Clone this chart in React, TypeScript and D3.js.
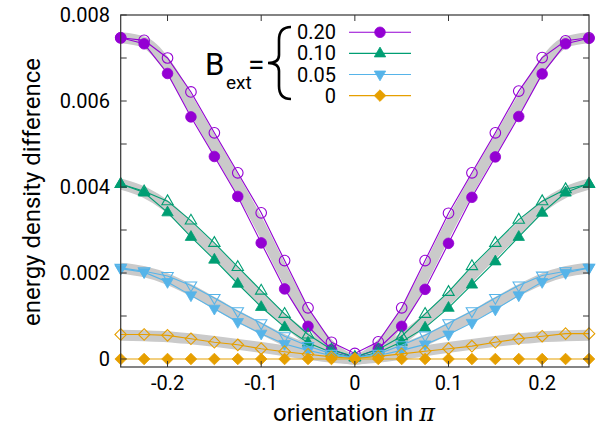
import React from 'react';
import * as d3 from 'd3';

// orientation (in units of pi)
const orientation = [
  -0.25, -0.225, -0.2, -0.175, -0.15, -0.125, -0.1, -0.075, -0.05, -0.025, 0,
  0.025, 0.05, 0.075, 0.1, 0.125, 0.15, 0.175, 0.2, 0.225, 0.25,
];

// B_ext = 0.20
const purpleFilled = [0.00747, 0.00733, 0.00664, 0.00563, 0.00471, 0.00378, 0.0027, 0.00163, 0.00076, 0.00022, 0.00003,
  0.00024, 0.00076, 0.00162, 0.00269, 0.00376, 0.0047, 0.00564, 0.00663, 0.00733, 0.00746];
const purpleOpen = [0.00747, 0.00741, 0.007, 0.00621, 0.00526, 0.00433, 0.0034, 0.00229, 0.00119, 0.00039, 0.00013,
  0.0004, 0.00119, 0.00229, 0.00339, 0.00433, 0.00526, 0.00623, 0.00701, 0.0074, 0.00747];
const purpleTheory = [0.00747, 0.00737, 0.00682, 0.00592, 0.00498, 0.00405, 0.00305, 0.00196, 0.00097, 0.00028, 0,
  0.00028, 0.00097, 0.00196, 0.00305, 0.00405, 0.00498, 0.00592, 0.00682, 0.00737, 0.00747];

// B_ext = 0.10
const greenFilled = [0.00407, 0.00387, 0.00341, 0.00284, 0.00231, 0.00175, 0.00121, 0.00074, 0.00038, 0.00015, 0.00003,
  0.00015, 0.0004, 0.00073, 0.00119, 0.00173, 0.00227, 0.00284, 0.0034, 0.00387, 0.00408];
const greenOpen = [0.00407, 0.0039, 0.00367, 0.00322, 0.0027, 0.00214, 0.00159, 0.00105, 0.00057, 0.00022, 0.00005,
  0.00022, 0.00053, 0.00105, 0.00156, 0.00216, 0.0027, 0.00324, 0.00367, 0.00395, 0.00407];
const greenTheory = [0.00407, 0.00388, 0.00354, 0.00303, 0.0025, 0.00195, 0.0014, 0.0009, 0.00047, 0.00016, 0,
  0.00016, 0.00047, 0.0009, 0.0014, 0.00195, 0.0025, 0.00303, 0.00354, 0.00388, 0.00407];

// B_ext = 0.05
const blueFilled = [0.0021, 0.00202, 0.00179, 0.00148, 0.00117, 0.00086, 0.00059, 0.00035, 0.0002, 0.00008, 0.00002,
  0.00008, 0.0002, 0.00034, 0.00057, 0.00084, 0.00115, 0.00148, 0.00179, 0.002, 0.00212];
const blueOpen = [0.00212, 0.00204, 0.00193, 0.00171, 0.00142, 0.00111, 0.00083, 0.00053, 0.0003, 0.00012, 0.00003,
  0.00012, 0.00032, 0.00055, 0.00083, 0.00111, 0.00142, 0.00171, 0.00194, 0.00204, 0.00212];
const blueTheory = [0.00211, 0.00203, 0.00186, 0.0016, 0.0013, 0.00099, 0.00071, 0.00044, 0.00024, 0.00009, 0,
  0.00009, 0.00024, 0.00044, 0.00071, 0.00099, 0.0013, 0.0016, 0.00186, 0.00203, 0.00211];

// B_ext = 0
const orangeFilled = [0, 0, 0, 0, 0, 0, 0, 0, 0, 0, 0, 0, 0, 0, 0, 0, 0, 0, 0, 0, 0];
const orangeOpen = [0.00057, 0.00057, 0.00055, 0.00047, 0.00039, 0.00033, 0.00024, 0.00017, 0.00011, 0.00005, 0.00001,
  0.00006, 0.00012, 0.00018, 0.00024, 0.0003, 0.00039, 0.00047, 0.00053, 0.00059, 0.00059];
const orangeTheory = [0.00055, 0.00054, 0.00052, 0.00047, 0.00041, 0.00034, 0.00027, 0.00019, 0.00011, 0.00004, 0,
  0.00004, 0.00011, 0.00019, 0.00027, 0.00034, 0.00041, 0.00047, 0.00052, 0.00054, 0.00055];

const legendLabels = ['0.20', '0.10', '0.05', '0'];
const xTicks = [-0.2, -0.1, 0, 0.1, 0.2];
const yTicks = [0, 0.002, 0.004, 0.006, 0.008];
const yMinorTicks = [0.001, 0.003, 0.005, 0.007];

const colors = ['#9400d3', '#009e73', '#56b4e9', '#e69f00'];
const markerPaths = [
  'M5.3,0A5.3,5.3 0 1,1 -5.3,0A5.3,5.3 0 1,1 5.3,0Z',
  'M0,-6.3L5.7,3.5L-5.7,3.5Z',
  'M0,6.3L5.7,-3.5L-5.7,-3.5Z',
  'M0,-5.8L5.8,0L0,5.8L-5.8,0Z',
];

const series = [
  { open: purpleOpen, filled: purpleFilled, theory: purpleTheory },
  { open: greenOpen, filled: greenFilled, theory: greenTheory },
  { open: blueOpen, filled: blueFilled, theory: blueTheory },
  { open: orangeOpen, filled: orangeFilled, theory: orangeTheory },
];

const left = 120.7, right = 589, top = 15, bottom = 367;
const font = 'Roboto, "Liberation Sans", sans-serif';
const axisColor = '#333';

const App = () => {
  const x = d3.scaleLinear().domain([-0.25, 0.25]).range([left, right]);
  const y = d3.scaleLinear().domain([-0.000186, 0.008]).range([bottom, top]);

  const line = (vals: number[]) =>
    d3.line<number>().x((_, i) => x(orientation[i])).y(d => y(d))(vals) || '';
  const smooth = (vals: number[]) =>
    d3.line<number>().x((_, i) => x(orientation[i])).y(d => y(d)).curve(d3.curveMonotoneX)(vals) || '';

  const fmtY = (d: number) => (d === 0 ? '0' : d3.format('.3f')(d));
  const fmtX = (d: number) => (d === 0 ? '0' : d3.format('.1f')(d).replace('−', '-'));

  const legendY = [32.3, 53.4, 74.5, 95.6];

  return (
    <svg width={600} height={427} style={{ position: 'absolute', left: 0, top: 0, background: '#fff' }}
      fontFamily={font}>
      <defs>
        <clipPath id="plot">
          <rect x={left} y={top} width={right - left} height={bottom - top} />
        </clipPath>
      </defs>

      {/* theory bands */}
      <g clipPath="url(#plot)">
        {series.map((s, k) => (
          <path key={'t' + k} d={smooth(s.theory)} fill="none" stroke="#cacaca" strokeWidth={11} />
        ))}
      </g>

      {/* data */}
      {series.map((s, k) => (
        <g key={'s' + k}>
          <path d={line(s.open)} fill="none" stroke={colors[k]} strokeWidth={1.1} />
          {s.open.map((v, i) => (
            <path key={'o' + i} d={markerPaths[k]} transform={`translate(${x(orientation[i])},${y(v)})`}
              fill="none" stroke={colors[k]} strokeWidth={1.1} />
          ))}
          <path d={line(s.filled)} fill="none" stroke={colors[k]} strokeWidth={1.1} />
          {s.filled.map((v, i) => (
            <path key={'f' + i} d={markerPaths[k]} transform={`translate(${x(orientation[i])},${y(v)})`}
              fill={colors[k]} stroke={colors[k]} strokeWidth={0.8} />
          ))}
        </g>
      ))}

      {/* frame */}
      <rect x={left} y={top} width={right - left} height={bottom - top} fill="none" stroke={axisColor} strokeWidth={1.2} />
      {xTicks.map(t => (
        <g key={'xt' + t}>
          <line x1={x(t)} x2={x(t)} y1={bottom} y2={bottom - 6} stroke={axisColor} />
          <line x1={x(t)} x2={x(t)} y1={top} y2={top + 6} stroke={axisColor} />
          <text x={x(t)} y={390} textAnchor="middle" fontSize={20} fill="#000">{fmtX(t)}</text>
        </g>
      ))}
      {yTicks.map(t => (
        <g key={'yt' + t}>
          <line x1={left} x2={left + 6} y1={y(t)} y2={y(t)} stroke={axisColor} />
          <line x1={right} x2={right - 6} y1={y(t)} y2={y(t)} stroke={axisColor} />
          <text x={110} y={y(t)} dy="0.35em" textAnchor="end" fontSize={20} fill="#000">{fmtY(t)}</text>
        </g>
      ))}
      {yMinorTicks.map(t => (
        <g key={'ym' + t}>
          <line x1={left} x2={left + 6} y1={y(t)} y2={y(t)} stroke={axisColor} />
          <line x1={right} x2={right - 6} y1={y(t)} y2={y(t)} stroke={axisColor} />
        </g>
      ))}

      {/* axis labels */}
      <text x={354} y={421} textAnchor="middle" fontSize={24} fill="#000">
        orientation in <tspan fontStyle="italic" fontFamily='"DejaVu Serif", serif'>π</tspan>
      </text>
      <text transform="translate(40,192) rotate(-90)" textAnchor="middle" fontSize={24} fill="#000">
        energy density difference
      </text>

      {/* legend */}
      <text x={205} y={75} fontSize={31} fill="#000">B</text>
      <text x={226} y={89} fontSize={19} fill="#000">ext</text>
      <text x={248} y={75} fontSize={30} fill="#000">=</text>
      <path d="M291,27 Q279,27 279,40 L279,55 Q279,63 268,63 Q279,63 279,71 L279,86 Q279,99 291,99"
        fill="none" stroke="#000" strokeWidth={2.6} />
      {legendLabels.map((l, k) => (
        <g key={'l' + k}>
          <text x={336} y={legendY[k]} dy="0.35em" textAnchor="end" fontSize={20} fill="#000">{l}</text>
          <line x1={349} x2={411} y1={legendY[k]} y2={legendY[k]} stroke={colors[k]} strokeWidth={1.1} />
          <path d={markerPaths[k]} transform={`translate(380,${legendY[k]})`} fill={colors[k]} stroke={colors[k]} strokeWidth={0.8} />
        </g>
      ))}
    </svg>
  );
};

export default App;
